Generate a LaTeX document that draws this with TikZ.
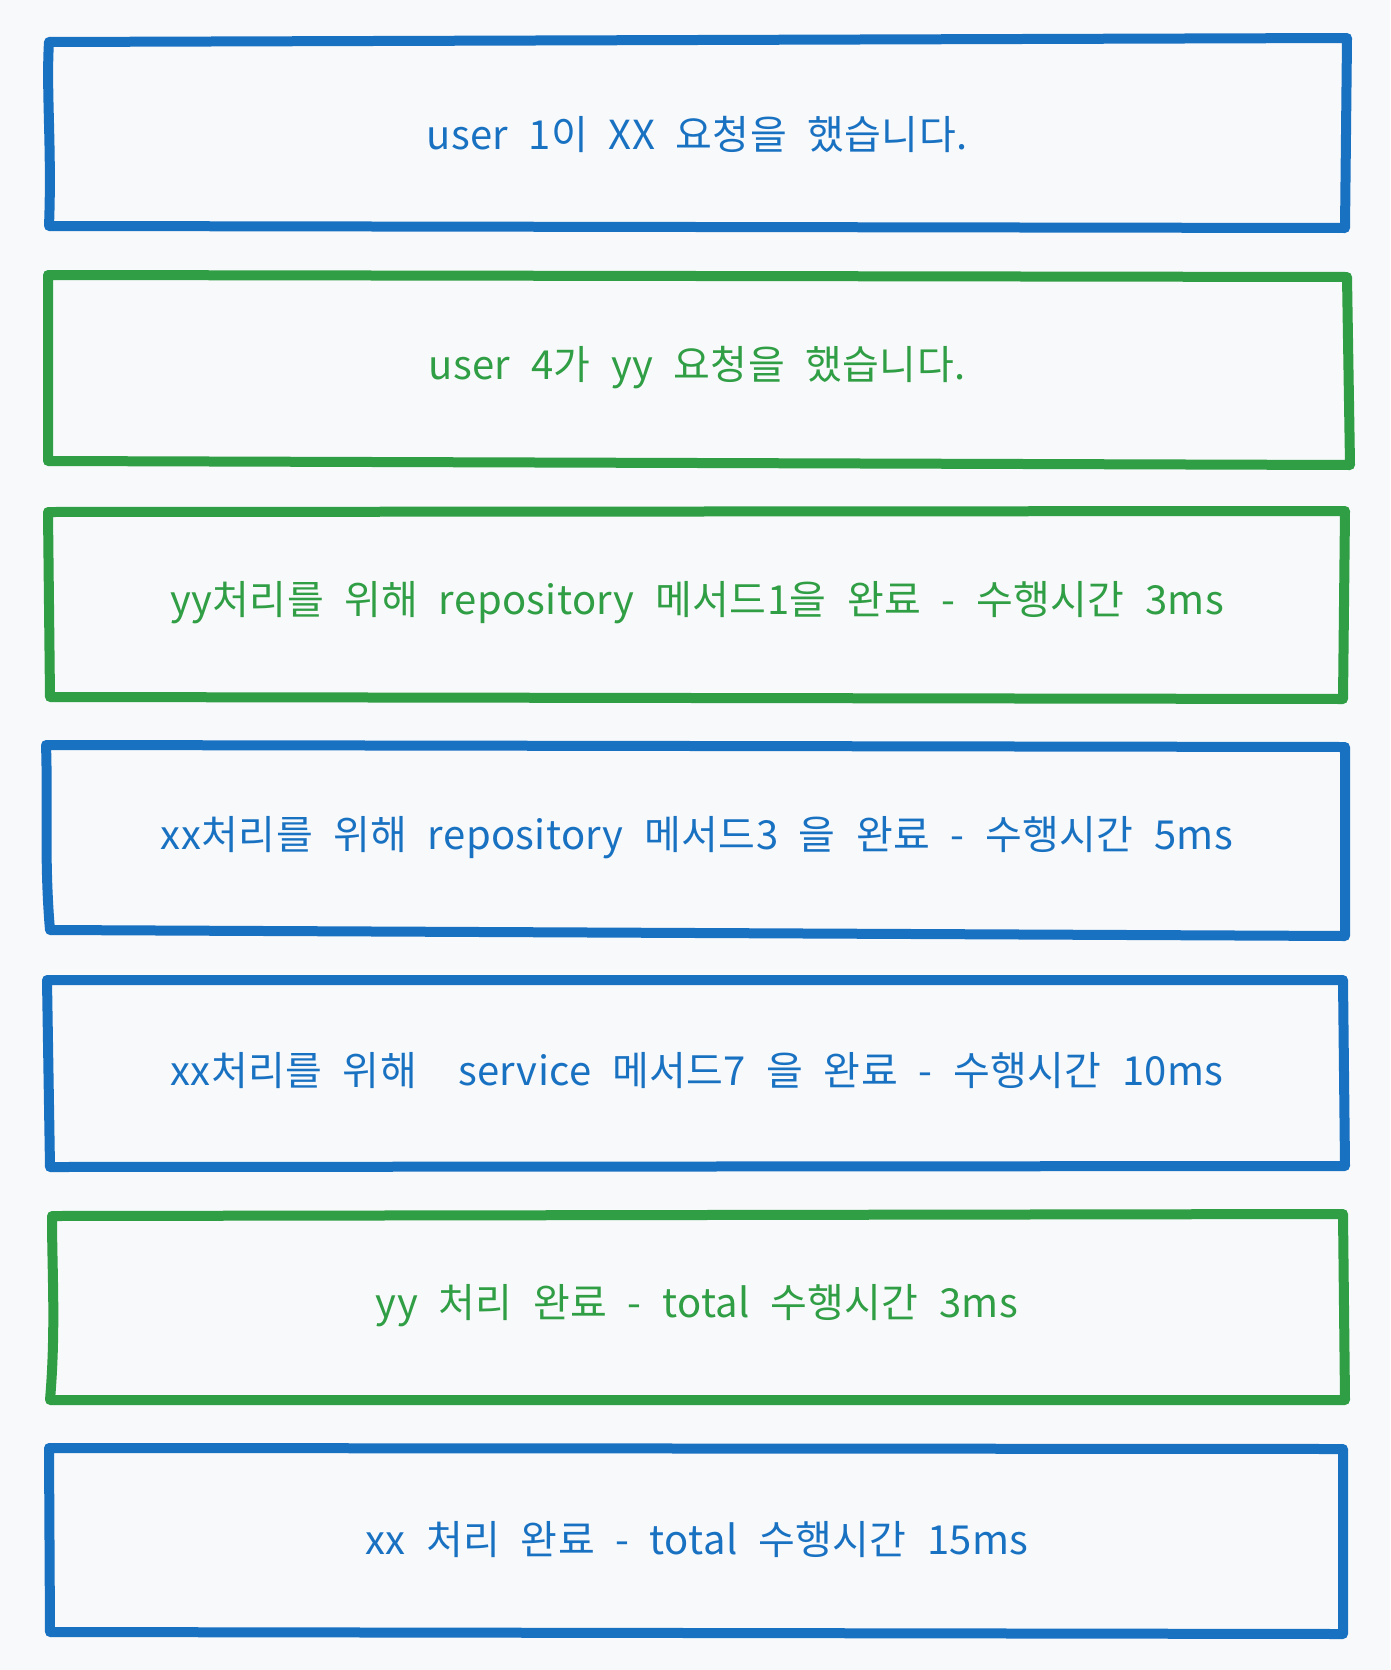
\documentclass[tikz,border=0pt]{standalone}
\usepackage{fontspec}
\setmainfont{Noto Sans CJK KR}[WordSpace=2.2,LetterSpace=1]
\definecolor{bgc}{HTML}{F8F9FA}
\definecolor{blu}{HTML}{1971C2}
\definecolor{grn}{HTML}{2F9E44}
\begin{document}
\begin{tikzpicture}[x=1pt,y=-1pt,
  sk/.style={line width=10pt,line cap=round,line join=round},
  bl/.style={sk,draw=blu},
  gr/.style={sk,draw=grn},
  lbl/.style={font=\fontsize{40}{48}\selectfont,inner sep=0pt,anchor=center}]
\fill[bgc] (0,0) rectangle (1390,1670);
\useasboundingbox (0,0) rectangle (1390,1670);
% box 1
\draw[bl] (49,42) -- (1347,38) -- (1345,228) -- (49,226) .. controls (52,150) and (46,90) .. cycle;
\node[lbl,text=blu] (t1) at (697,134) {user 1이 XX 요청을 했습니다.};
% box 2
\draw[gr] (48,275) -- (1347,277) -- (1350,465) -- (48,461) -- cycle;
\node[lbl,text=grn] (t2) at (697,368) {user 4가 yy 요청을 했습니다.};
% box 3
\draw[gr] (48,512) -- (1345,511) -- (1343,699) -- (50,697) -- cycle;
\node[lbl,text=grn] (t3) at (697,603) {yy처리를 위해 repository 메서드1을 완료 - 수행시간 3ms};
% box 4
\draw[bl] (46,745) -- (1345,747) -- (1345,936) -- (50,930) .. controls (44,860) and (48,800) .. cycle;
\node[lbl,text=blu] (t4) at (697,838) {xx처리를 위해 repository 메서드3 을 완료 - 수행시간 5ms};
% box 5
\draw[bl] (47,980) -- (1343,980) -- (1345,1166) -- (50,1167) -- cycle;
\node[lbl,text=blu] (t5) at (697,1071) {xx처리를 위해 \ service 메서드7 을 완료 - 수행시간 10ms};
% box 6
\draw[gr] (52,1216) -- (1343,1214) -- (1345,1400) -- (50,1400) .. controls (56,1330) and (52,1270) .. cycle;
\node[lbl,text=grn] (t6) at (697,1306) {yy 처리 완료 - total 수행시간 3ms};
% box 7
\draw[bl] (49,1448) -- (1343,1449) -- (1343,1634) -- (50,1632) -- cycle;
\node[lbl,text=blu] (t7) at (697,1540) {xx 처리 완료 - total 수행시간 15ms};
\end{tikzpicture}
\end{document}
